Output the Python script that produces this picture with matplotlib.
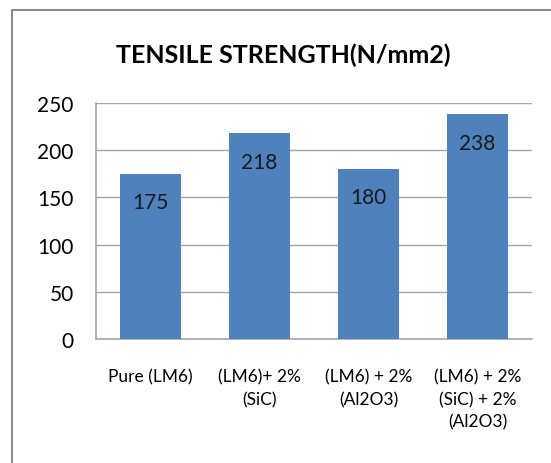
import matplotlib.pyplot as plt
from matplotlib.patches import Rectangle

categories = ['Pure (LM6)', '(LM6)+ 2%\n(SiC)', '(LM6) + 2%\n(Al2O3)', '(LM6) + 2%\n(SiC) + 2%\n(Al2O3)']
strength = [175, 218, 180, 238]
yticks = [0, 50, 100, 150, 200, 250]

plt.rcParams['font.family'] = ['Lato', 'DejaVu Sans']

fig = plt.figure(figsize=(5.51, 4.64), dpi=100)
# outer chart frame
fig.patches.append(Rectangle((12 / 551, -0.05), 1.1, (464 - 11) / 464 + 0.05,
                             transform=fig.transFigure, fill=False,
                             edgecolor='#8c8c8c', linewidth=1.5))

ax = fig.add_axes([96 / 551, (464 - 340) / 464, (532 - 96) / 551, (340 - 104) / 464])
x = range(len(categories))
bars = ax.bar(x, strength, width=0.56, color='#4f81bd', zorder=3)
for b, v in zip(bars, strength):
    ax.text(b.get_x() + b.get_width() / 2, v - 30, str(v), ha='center', va='center',
            fontsize=15, color='#1a1a1a', zorder=4)

ax.set_xlim(-0.5, 3.5)
ax.set_ylim(0, 250)
ax.set_yticks(yticks)
ax.set_yticklabels([str(t) for t in yticks], fontsize=15)
ax.set_xticks(list(x))
ax.set_xticklabels(categories, fontsize=12.5, linespacing=1.5, va='top')
ax.tick_params(axis='x', length=0, pad=21)
ax.tick_params(axis='y', length=0, pad=16)
ax.grid(axis='y', color='#a6a6a6', linewidth=1.0, zorder=0)
ax.spines['right'].set_visible(False)
ax.spines['top'].set_visible(False)
for s in ['left', 'bottom']:
    ax.spines[s].set_color('#a6a6a6')
    ax.spines[s].set_linewidth(1.2)

fig.text(283 / 551, 1 - 55 / 464, 'TENSILE STRENGTH(N/mm2)', ha='center', va='center',
         fontsize=18, fontweight='bold')

fig.savefig('out.png', dpi=100)
